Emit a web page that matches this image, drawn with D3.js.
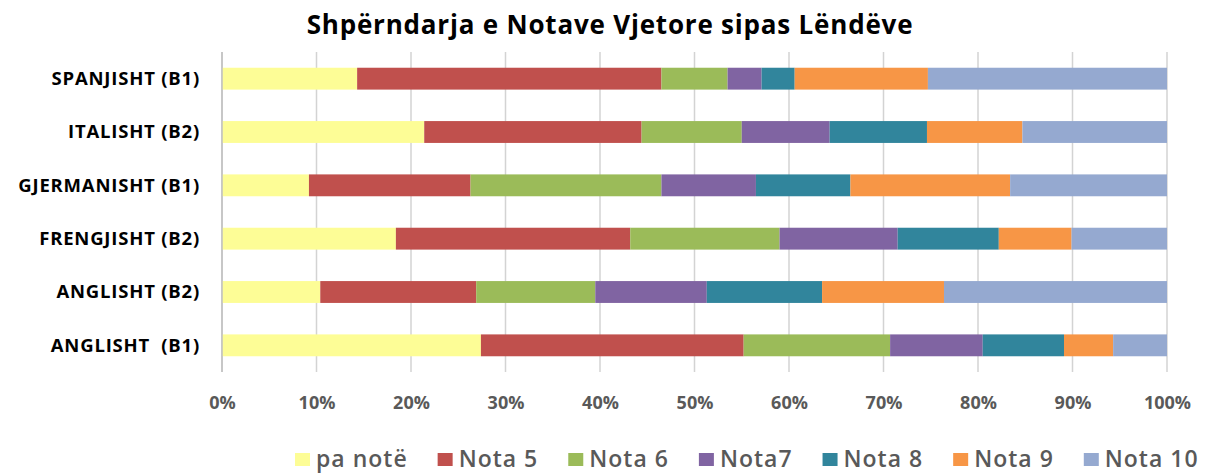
<!DOCTYPE html>
<html>
<head>
<meta charset="utf-8">
<script src="https://cdn.jsdelivr.net/npm/d3@7"></script>
<style>
  html, body { margin: 0; padding: 0; background: #fff; }
  svg { display: block; }
</style>
</head>
<body>
<svg id="chart" width="1205" height="473"></svg>
<script>
// ---- Data (percent) ----
const categories = ["SPANJISHT (B1)", "ITALISHT (B2)", "GJERMANISHT (B1)", "FRENGJISHT (B2)", "ANGLISHT (B2)", "ANGLISHT  (B1)"];
const seriesNames = ["pa notë", "Nota 5", "Nota 6", "Nota7", "Nota 8", "Nota 9", "Nota 10"];
const paNote = [14.3, 21.4, 9.2, 18.4, 10.4, 27.4];
const nota5  = [32.2, 23.0, 17.1, 24.8, 16.5, 27.8];
const nota6  = [7.0, 10.6, 20.2, 15.8, 12.6, 15.5];
const nota7  = [3.6, 9.3, 10.0, 12.5, 11.8, 9.8];
const nota8  = [3.5, 10.3, 10.0, 10.7, 12.2, 8.6];
const nota9  = [14.1, 10.1, 16.9, 7.7, 12.9, 5.2];
const nota10 = [25.3, 15.3, 16.6, 10.1, 23.6, 5.7];
const tickValues = [0, 0.1, 0.2, 0.3, 0.4, 0.5, 0.6, 0.7, 0.8, 0.9, 1.0];
const colors = ["#FDFD96", "#C0504D", "#9BBB59", "#8064A2", "#31859C", "#F79646", "#95A9D0"];
const title = "Shpërndarja e Notave Vjetore sipas Lëndëve";

const seriesValues = [paNote, nota5, nota6, nota7, nota8, nota9, nota10];
const rows = categories.map((c, i) => {
  const r = { cat: c };
  seriesNames.forEach((s, j) => r[s] = seriesValues[j][i]);
  return r;
});
const totals = rows.map(r => d3.sum(seriesNames, s => r[s]));
const rowsNorm = rows.map((r, i) => {
  const o = { cat: r.cat };
  seriesNames.forEach(s => o[s] = r[s] / totals[i]);
  return o;
});
const stacked = d3.stack().keys(seriesNames)(rowsNorm);

// ---- Layout ----
const svg = d3.select("#chart");
const margin = { left: 222, right: 38, top: 52, bottom: 101 };
const W = 1205, H = 473;
const x = d3.scaleLinear().domain([0, 1]).range([margin.left, W - margin.right]);
const y = d3.scaleBand().domain(categories).range([margin.top, H - margin.bottom]).paddingInner(0.59).paddingOuter(0.295);
const color = d3.scaleOrdinal().domain(seriesNames).range(colors);

const font = "'Open Sans', 'Liberation Sans', Arial, sans-serif";

// Title
svg.append("text")
  .attr("x", 610).attr("y", 34)
  .attr("text-anchor", "middle")
  .attr("font-family", font).attr("font-weight", "bold")
  .attr("font-size", 26).attr("letter-spacing", 0.8).attr("fill", "#000")
  .text(title);

// Gridlines
svg.append("g")
  .selectAll("line").data(tickValues).join("line")
  .attr("x1", d => x(d)).attr("x2", d => x(d))
  .attr("y1", margin.top).attr("y2", H - margin.bottom)
  .attr("stroke", "#d3d3d3").attr("stroke-width", 1.5);

// Bars
svg.append("g")
  .selectAll("g").data(stacked).join("g")
  .attr("fill", d => color(d.key))
  .selectAll("rect").data(d => d).join("rect")
  .attr("x", d => x(d[0]))
  .attr("y", d => y(d.data.cat))
  .attr("width", d => x(d[1]) - x(d[0]))
  .attr("height", y.bandwidth());

// Left axis line
svg.append("line")
  .attr("x1", x(0)).attr("x2", x(0))
  .attr("y1", margin.top).attr("y2", H - margin.bottom)
  .attr("stroke", "#bfbfbf").attr("stroke-width", 1.5);

// X axis labels
const xAxis = d3.axisBottom(x).tickValues(tickValues).tickFormat(d3.format(".0%")).tickSize(0).tickPadding(0);
const gx = svg.append("g").attr("transform", `translate(0, ${H - margin.bottom})`).call(xAxis);
gx.select(".domain").remove();
gx.selectAll("text")
  .attr("y", 0).attr("dy", 37)
  .attr("font-family", font).attr("font-weight", "bold")
  .attr("font-size", 18).attr("fill", "#595959");

// Y axis labels
const yAxis = d3.axisLeft(y).tickSize(0).tickPadding(0);
const gy = svg.append("g").attr("transform", `translate(${x(0) - 22}, 0)`).call(yAxis);
gy.select(".domain").remove();
gy.selectAll("text")
  .attr("font-family", font).attr("font-weight", "bold")
  .attr("font-size", 18.5).attr("letter-spacing", 0.8).attr("fill", "#000")
  .attr("dy", "0.35em")
  .style("white-space", "pre");

// Legend
const legend = svg.append("g").attr("transform", "translate(295, 459)");
let lx = 0;
seriesNames.forEach((s, i) => {
  const g = legend.append("g").attr("transform", `translate(${lx}, 0)`);
  g.append("rect").attr("x", 0).attr("y", -6).attr("width", 15).attr("height", 13).attr("fill", color(s));
  const t = g.append("text").attr("x", 21).attr("y", 0).attr("dy", "0.35em")
    .attr("font-family", font).attr("font-weight", 600).attr("font-size", 23)
    .attr("letter-spacing", 1).attr("fill", "#595959")
    .text(s);
  const w = t.node().getComputedTextLength();
  lx += 21 + w + 30;
});
</script>
</body>
</html>
